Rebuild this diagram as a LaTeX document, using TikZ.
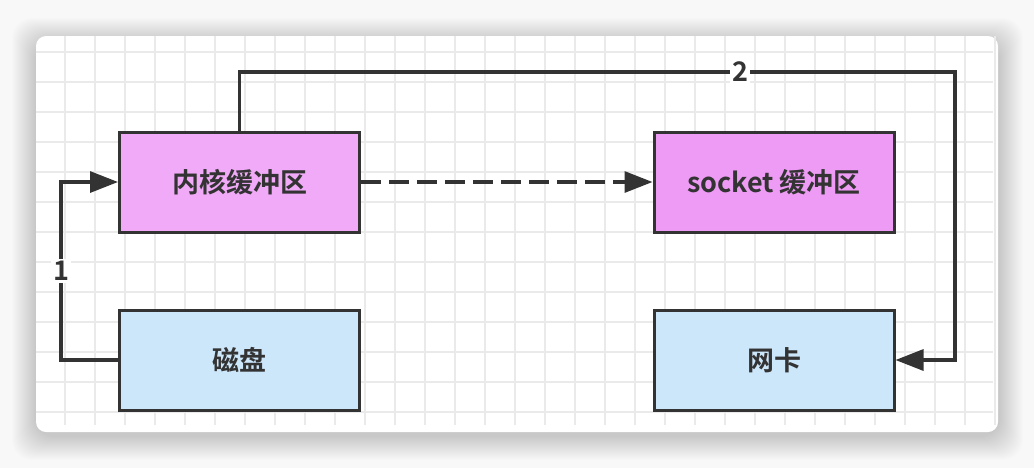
\documentclass[tikz,border=0pt]{standalone}
\usepackage{fontspec}
\setmainfont{Noto Sans CJK SC}[BoldFont={Noto Sans CJK SC Bold}]
\usetikzlibrary{arrows.meta,positioning}
\definecolor{linegray}{RGB}{51,51,51}
\definecolor{gridgray}{RGB}{234,234,234}
\definecolor{kernpink}{RGB}{240,170,247}
\definecolor{sockpink}{RGB}{238,155,245}
\definecolor{diskblue}{RGB}{204,230,250}
\definecolor{pagegray}{RGB}{248,248,248}
\tikzset{
  bufbox/.style={draw=linegray,line width=1.5pt,fill=#1,minimum width=120pt,minimum height=50pt,font=\bfseries\fontsize{13.5}{16}\selectfont,text=linegray},
  arr/.style={-{Triangle[length=14pt,width=10.5pt]},line width=1.6pt,draw=linegray},
  lbl/.style={fill=white,inner sep=1pt,font=\bfseries\fontsize{13.5}{16}\selectfont,text=linegray},
  gridline/.style={draw=gridgray,line width=0.8pt},
}
\begin{document}
\begin{tikzpicture}[x=0.5pt,y=-0.5pt]
  \useasboundingbox (0,0) rectangle (1034,468);
  \fill[pagegray] (0,0) rectangle (1034,468);
  % soft shadow and card
  \foreach \s in {1,...,24}
    \fill[black,opacity=0.009,rounded corners=10pt] ({36-\s},{42-\s}) rectangle ({999+\s},{436+\s});
  \fill[white,rounded corners=5pt] (36,36) rectangle (998,432);
  \foreach \gx in {65,95,...,995}
    \draw[gridline] (\gx,36) -- (\gx,425);
  \foreach \gy in {52,82,...,412}
    \draw[gridline] (36,\gy) -- (993,\gy);

  % buffers
  \node[bufbox=kernpink] (kernel) at (239.5,182) {内核缓冲区};
  \node[bufbox=sockpink] (socket) at (774,182) {socket 缓冲区};
  \node[bufbox=diskblue] (disk) at (239.5,360) {磁盘};
  \node[bufbox=diskblue] (nic) at (774,360) {网卡};
  \coordinate (turn) at (955,72);

  \draw[arr] (disk.west) -- ++(-57,0) |- node[lbl,pos=0.25] {1} (kernel.west);
  \draw[arr,dash pattern=on 10pt off 4pt] (kernel.east) -- (socket.west);
  \draw[arr] (kernel.north) |- node[lbl,pos=0.85] {2} (turn) |- (nic.east);
\end{tikzpicture}
\end{document}
